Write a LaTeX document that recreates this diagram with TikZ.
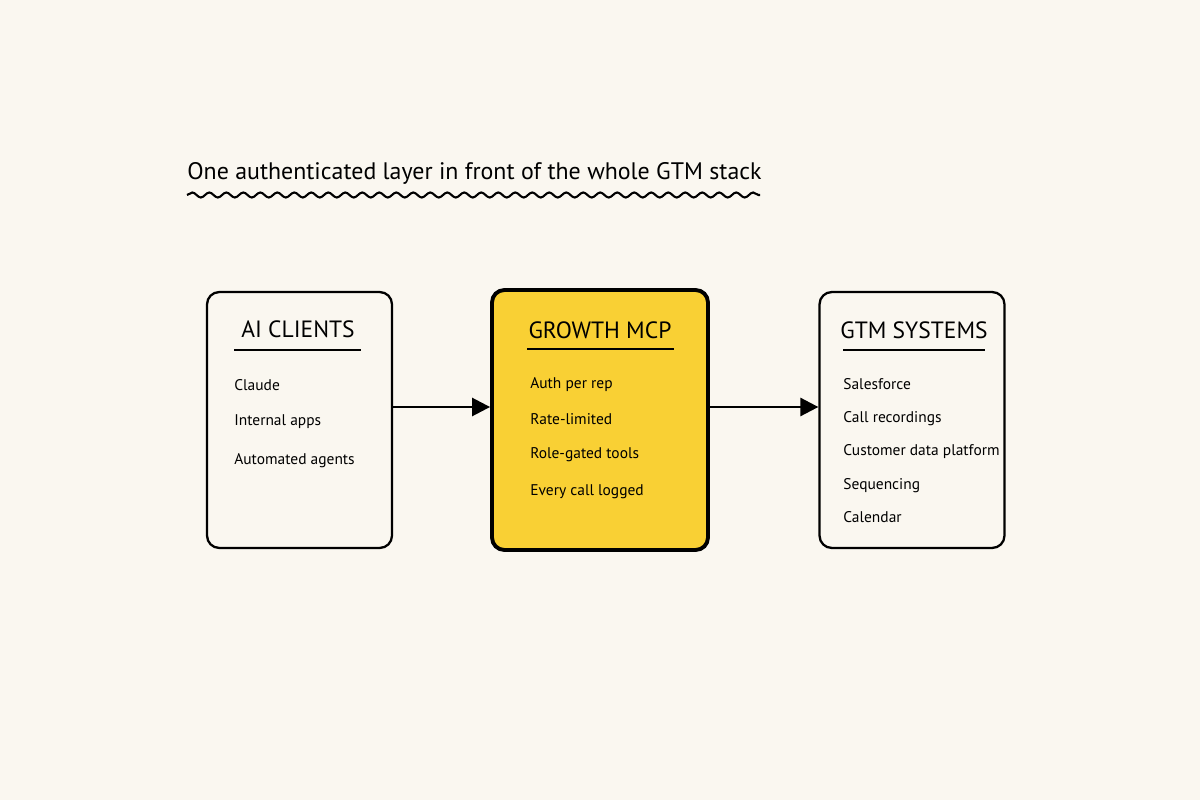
\documentclass[tikz,border=0pt]{standalone}
\usepackage{fontspec}
\setmainfont{PT Sans}
\usetikzlibrary{arrows.meta, positioning, decorations.pathmorphing}
\definecolor{paper}{RGB}{250,247,240}
\definecolor{mcpyellow}{RGB}{249,208,52}
\tikzstyle{panel} = [rectangle, rounded corners=7pt, draw=black, line width=1.3pt, fill=paper, minimum width=3.7cm, minimum height=5.12cm]
\tikzstyle{hub} = [panel, fill=mcpyellow, line width=2.2pt, minimum width=4.32cm, minimum height=5.2cm]
\tikzstyle{head} = [font=\fontsize{13.4}{16}\selectfont, inner sep=1pt]
\tikzstyle{item} = [font=\fontsize{8.8}{11}\selectfont, anchor=west, inner sep=0pt]
\tikzstyle{arrow} = [line width=1.5pt, -{Triangle[length=0.36cm, width=0.36cm]}]

\begin{document}
\begin{tikzpicture}[x=0.02cm, y=-0.02cm]
	\fill[paper] (0,0) rectangle (1200,800);
	\useasboundingbox (0,0) rectangle (1200,800);
	% title
	\node (title)[anchor=west, inner sep=0pt, font=\fontsize{13.6}{16}\selectfont] at (187,173) {One authenticated layer in front of the whole GTM stack};
	\draw [line width=1.2pt, decorate, decoration={snake, segment length=0.34cm, amplitude=0.05cm}] (187,195) -- (760,195);
	% boxes
	\node (clients)[panel] at (299.5,420) {};
	\node (mcp)[hub] at (600,420) {};
	\node (systems)[panel] at (912,420) {};
	% headings
	\node (clientshead)[head] at (298,329) {AI CLIENTS};
	\node (mcphead)[head] at (600,330) {GROWTH MCP};
	\node (systemshead)[head] at (914,330) {GTM SYSTEMS};
	\draw [line width=1.3pt] (234,350) -- (361,350);
	\draw [line width=1.3pt] (527,349) -- (674,349);
	\draw [line width=1.3pt] (843,350) -- (985,350);
	% items
	\node (claude)[item] at (234,385) {Claude};
	\node (apps)[item] at (234,422) {Internal apps};
	\node (agents)[item] at (234,461) {Automated agents};
	\node (auth)[item] at (530,385) {Auth per rep};
	\node (rate)[item] at (530,419) {Rate-limited};
	\node (role)[item] at (530,455) {Role-gated tools};
	\node (logged)[item] at (530,492) {Every call logged};
	\node (sf)[item] at (843,384) {Salesforce};
	\node (calls)[item] at (843,419) {Call recordings};
	\node (cdp)[item] at (843,452) {Customer data platform};
	\node (seq)[item] at (843,486) {Sequencing};
	\node (cal)[item] at (843,517) {Calendar};
	% connectors
	\draw [arrow] ([yshift=0.26cm]clients.east) -- ([yshift=0.26cm]mcp.west);
	\draw [arrow] ([yshift=0.26cm]mcp.east) -- ([yshift=0.26cm]systems.west);
\end{tikzpicture}
\end{document}
